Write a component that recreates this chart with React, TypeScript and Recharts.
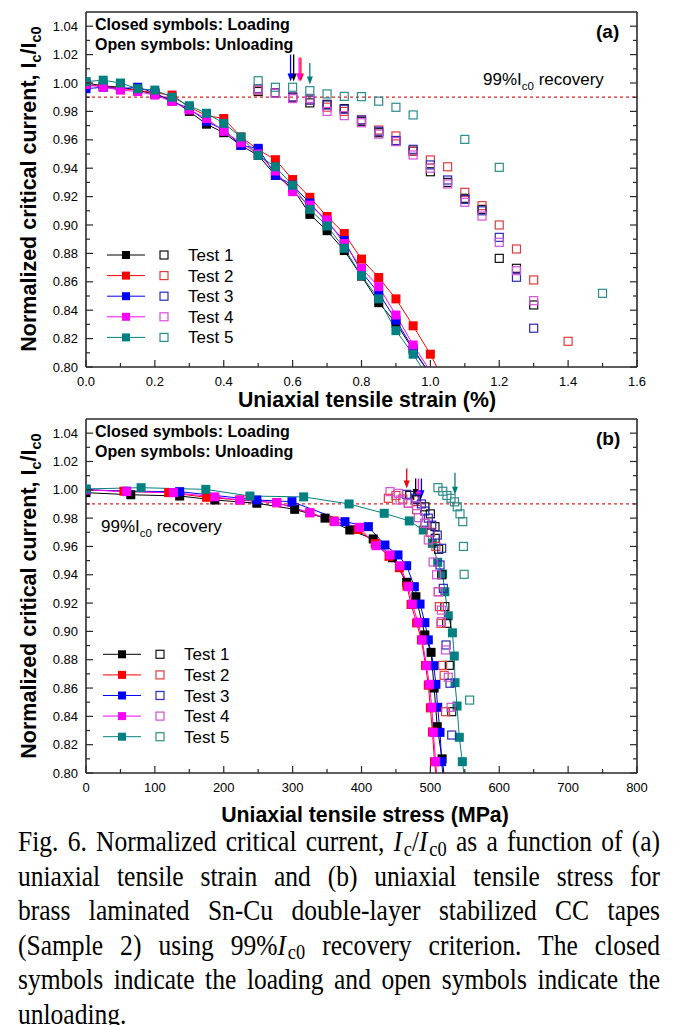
import React from "react";
import { ComposedChart, Line, Scatter, XAxis, YAxis, ReferenceLine } from "recharts";

const FONT = "'Liberation Sans', Arial, Helvetica, sans-serif";
const SERIF = "'Liberation Serif', 'Times New Roman', serif";

const testNames = ["Test 1", "Test 2", "Test 3", "Test 4", "Test 5"];
const fillColors = ["#000000", "#ff0000", "#0000ff", "#ff00ff", "#008080"];
const openColors = ["#111111", "#e33b3b", "#2a2ab8", "#d64fd6", "#2b8c8c"];

const icTicks = [
  0.8, 0.81, 0.82, 0.83, 0.84, 0.85, 0.86, 0.87, 0.88, 0.89, 0.9, 0.91, 0.92,
  0.93, 0.94, 0.95, 0.96, 0.97, 0.98, 0.99, 1.0, 1.01, 1.02, 1.03, 1.04,
];
const strainTicks = [0, 0.1, 0.2, 0.3, 0.4, 0.5, 0.6, 0.7, 0.8, 0.9, 1.0, 1.1, 1.2, 1.3, 1.4, 1.5, 1.6];
const stressTicks = [0, 50, 100, 150, 200, 250, 300, 350, 400, 450, 500, 550, 600, 650, 700, 750, 800];

// ---- (a) strain, loading ----
const loadStrain = [0, 0.05, 0.1, 0.15, 0.2, 0.25, 0.3, 0.35, 0.4, 0.45, 0.5, 0.55, 0.6, 0.65, 0.7, 0.75, 0.8, 0.85, 0.9, 0.95, 1.0, 1.05];
const loadA1 = [1.0, 0.998, 0.997, 0.995, 0.992, 0.988, 0.98, 0.971, 0.965, 0.956, 0.949, 0.935, 0.926, 0.9075, 0.896, 0.882, 0.864, 0.8453, 0.831, 0.812, 0.795, 0.775];
const loadA2 = [0.998, 0.998, 0.996, 0.995, 0.993, 0.9915, 0.983, 0.977, 0.975, 0.962, 0.953, 0.946, 0.932, 0.9195, 0.906, 0.894, 0.876, 0.863, 0.848, 0.829, 0.809, 0.785];
const loadA3 = [0.996, 0.997, 0.996, 0.997, 0.993, 0.987, 0.982, 0.973, 0.967, 0.956, 0.954, 0.935, 0.928, 0.9155, 0.902, 0.889, 0.867, 0.852, 0.833, 0.813, 0.794, 0.775];
const loadA4 = [0.999, 0.997, 0.995, 0.994, 0.9915, 0.987, 0.981, 0.975, 0.966, 0.958, 0.95, 0.938, 0.9235, 0.914, 0.9035, 0.887, 0.8695, 0.8566, 0.8366, 0.8155, 0.797, 0.775];
const loadA5 = [1.001, 1.002, 1.0, 0.996, 0.995, 0.99, 0.984, 0.9787, 0.9716, 0.962, 0.949, 0.941, 0.928, 0.911, 0.8993, 0.8836, 0.8643, 0.848, 0.8256, 0.809, 0.79, 0.77];

// ---- (a) strain, unloading ----
const unloadStrain = [0.5, 0.55, 0.6, 0.65, 0.7, 0.75, 0.8, 0.85, 0.9, 0.95, 1.0, 1.05, 1.1, 1.15, 1.2, 1.25, 1.3, 1.4, 1.5];
const unloadA1 = [0.994, 0.993, 0.99, 0.986, 0.985, 0.982, 0.973, 0.965, 0.959, 0.952, 0.9375, 0.93, 0.9188, 0.911, 0.8765, 0.8695, 0.8437, null, null];
const unloadA2 = [0.995, 0.993, 0.99, 0.988, 0.983, 0.98, 0.974, 0.9669, 0.9627, 0.952, 0.9458, 0.941, 0.923, 0.9136, 0.9, 0.8831, 0.8613, 0.8181, null];
const unloadA3 = [0.996, 0.993, 0.99, 0.988, 0.9845, 0.9815, 0.974, 0.966, 0.9595, 0.9533, 0.9423, 0.9317, 0.918, 0.91, 0.8913, 0.8632, 0.8273, null, null];
const unloadA4 = [0.9956, 0.9928, 0.989, 0.9892, 0.98, 0.977, 0.972, 0.964, 0.9587, 0.9493, 0.94, 0.9289, 0.916, 0.9063, 0.8878, 0.8678, 0.8467, null, null];
const unloadA5 = [1.0016, 0.997, 0.997, 0.9946, 0.9923, 0.9906, 0.9904, 0.9872, 0.9829, 0.9775, null, null, 0.9603, null, 0.9406, null, null, null, 0.8519];

// arrows (x, top, tip) for each test, panel (a)
const arrowStrainA = [0.603, 0.624, 0.594, 0.619, 0.65];
const arrowTopA = [1.02, 1.018, 1.02, 1.018, 1.014];
const arrowTipA = [1.001, 1.001, 1.001, 1.001, 0.999];

// ---- (b) stress, loading ----
const loadStressB1 = [0, 65, 136, 187, 248, 303, 347, 383, 417, 445, 465.6, 479, 492, 501, 505.5, 510, 517, 521];
const loadB1 = [0.998, 0.9965, 0.9956, 0.9928, 0.9905, 0.9862, 0.98, 0.9716, 0.9653, 0.952, 0.9347, 0.9245, 0.8975, 0.8852, 0.86, 0.8327, 0.81, 0.795];
const loadStressB2 = [0, 55, 120, 175, 223.5, 277, 325, 360, 395, 420, 440, 455, 466, 472, 480, 487, 493, 497, 500, 503, 506, 509];
const loadB2 = [1.0, 0.999, 0.998, 0.9947, 0.9928, 0.9909, 0.9838, 0.978, 0.972, 0.962, 0.953, 0.945, 0.932, 0.919, 0.906, 0.894, 0.876, 0.862, 0.846, 0.829, 0.808, 0.795];
const loadStressB3 = [0, 59, 136, 248, 299, 376, 410, 434, 453, 465.6, 476.7, 485, 492, 497, 505, 508, 510.6, 514, 516.4, 519];
const loadB3 = [1.0, 0.999, 0.9987, 0.9928, 0.9916, 0.9775, 0.974, 0.961, 0.954, 0.9464, 0.9316, 0.9193, 0.9062, 0.894, 0.8758, 0.8626, 0.8464, 0.8287, 0.808, 0.795];
const loadStressB4 = [0, 59, 127, 187, 223, 277, 325, 361, 397, 421, 441.4, 456, 468, 473.8, 482, 488, 494.5, 498.5, 502, 504.3, 507.7, 510];
const loadB4 = [1.0, 0.9987, 0.998, 0.995, 0.9928, 0.9909, 0.9838, 0.9775, 0.9735, 0.9605, 0.954, 0.9464, 0.9316, 0.9193, 0.9065, 0.894, 0.8758, 0.8626, 0.8464, 0.8287, 0.808, 0.795];
const loadStressB5 = [0, 80, 174, 238, 316, 382, 433, 469.4, 489.7, 502.8, 510.6, 517.8, 521, 526, 532, 534.7, 535.8, 538.7, 542, 546.4, 550];
const loadB5 = [1.0006, 1.0015, 1.0003, 0.9956, 0.995, 0.99, 0.9834, 0.978, 0.9716, 0.9622, 0.9488, 0.9405, 0.928, 0.911, 0.899, 0.8826, 0.8638, 0.8473, 0.8252, 0.808, 0.795];

// ---- (b) stress, unloading ----
const unloadStressB1 = [470, 480, 492, 500, 506.7, 507, 512, 516.4, 521, 523.7, 527.5, 531];
const unloadB1 = [0.996, 0.993, 0.988, 0.983, 0.974, 0.9657, 0.958, 0.94, 0.9175, 0.9057, 0.876, 0.8433];
const unloadStressB2 = [439, 450, 460, 468, 480, 492, 500, 508, 511.5, 513, 515.4, 517.8, 520, 522];
const unloadB2 = [0.994, 0.996, 0.9935, 0.9905, 0.986, 0.9763, 0.97, 0.96, 0.928, 0.9175, 0.9057, 0.876, 0.869, 0.8433];
const unloadStressB3 = [465.6, 478, 487, 492, 497, 502, 510, 516.4, 514, 518.8, 522.7, 528.5, 531];
const unloadB3 = [0.9968, 0.994, 0.99, 0.985, 0.98, 0.975, 0.968, 0.9587, 0.9469, 0.9304, 0.8904, 0.8634, 0.8268];
const unloadStressB4 = [441.4, 453.4, 456, 468, 480, 482.5, 492, 497, 504, 509, 511.5, 516, 516, 522, 526, 530];
const unloadB4 = [0.9987, 0.9975, 0.9928, 0.9905, 0.9888, 0.9803, 0.9763, 0.9646, 0.949, 0.94, 0.928, 0.915, 0.9069, 0.8869, 0.8676, 0.8464];
const unloadStressB5 = [511, 518, 524, 530, 535, 539, 543, 547, 548, 549, 557];
const unloadB5 = [1.0015, 0.999, 0.996, 0.994, 0.9915, 0.988, 0.983, 0.9775, 0.96, 0.9403, 0.8515];

const arrowStressB = [478.6, 465.6, 487, 482.5, 535.7];
const arrowTopB = [1.008, 1.015, 1.008, 1.008, 1.012];
const arrowTipB = [0.995, 1.001, 0.994, 0.993, 0.9965];

type Pt = { x: number; y: number };
const pts = (xs: number[], ys: (number | null)[]): Pt[] =>
  xs.map((x, i) => ({ x, y: ys[i] as number })).filter((p) => p.y != null);

const panelA = {
  load: [loadA1, loadA2, loadA3, loadA4, loadA5].map((ys) => pts(loadStrain, ys)),
  unload: [unloadA1, unloadA2, unloadA3, unloadA4, unloadA5].map((ys) => pts(unloadStrain, ys)),
  arrows: arrowStrainA.map((x, i) => ({ x, top: arrowTopA[i], tip: arrowTipA[i] })),
};
const panelB = {
  load: [
    pts(loadStressB1, loadB1),
    pts(loadStressB2, loadB2),
    pts(loadStressB3, loadB3),
    pts(loadStressB4, loadB4),
    pts(loadStressB5, loadB5),
  ],
  unload: [
    pts(unloadStressB1, unloadB1),
    pts(unloadStressB2, unloadB2),
    pts(unloadStressB3, unloadB3),
    pts(unloadStressB4, unloadB4),
    pts(unloadStressB5, unloadB5),
  ],
  arrows: arrowStressB.map((x, i) => ({ x, top: arrowTopB[i], tip: arrowTipB[i] })),
};

const AXIS = "#2a2a2a";

function AxisTick(props: any) {
  const { x, y, payload, side, major, fmt } = props;
  const v = payload.value;
  const big = major(v);
  const len = big ? 7 : 4;
  let line = null;
  let label = null;
  if (side === "bottom") {
    line = <line x1={x} y1={y} x2={x} y2={y - len} stroke={AXIS} strokeWidth={1.2} />;
    if (big)
      label = (
        <text x={x} y={y + 19} textAnchor="middle" fontSize={13} fontFamily={FONT} fill="#000">
          {fmt(v)}
        </text>
      );
  } else if (side === "top") {
    line = <line x1={x} y1={y} x2={x} y2={y + len} stroke={AXIS} strokeWidth={1.2} />;
  } else if (side === "left") {
    line = <line x1={x} y1={y} x2={x + len} y2={y} stroke={AXIS} strokeWidth={1.2} />;
    if (big)
      label = (
        <text x={x - 8} y={y} dy="0.35em" textAnchor="end" fontSize={13} fontFamily={FONT} fill="#000">
          {fmt(v)}
        </text>
      );
  } else {
    line = <line x1={x} y1={y} x2={x - len} y2={y} stroke={AXIS} strokeWidth={1.2} />;
  }
  return (
    <g>
      {line}
      {label}
    </g>
  );
}

const arrowShape = (color: string) => (p: any) => {
  const { x1, y1, x2, y2 } = p;
  return (
    <g>
      <line x1={x1} y1={y1} x2={x2} y2={y2 - 6} stroke={color} strokeWidth={1.3} />
      <polygon points={`${x2 - 3},${y2 - 8} ${x2 + 3},${y2 - 8} ${x2},${y2}`} fill={color} />
    </g>
  );
};

function Panel({ data, xDomain, xTicks, majorX, fmtX, bottom }: any) {
  const majorY = (v: number) => Math.round(v * 100) % 2 === 0;
  const fmtY = (v: number) => v.toFixed(2);
  return (
    <ComposedChart width={676} height={420} margin={{ top: 11, right: 38, bottom, left: 26 }}>
      <XAxis
        xAxisId="b"
        dataKey="x"
        type="number"
        domain={xDomain}
        ticks={xTicks}
        interval={0}
        allowDataOverflow
        height={30}
        tickSize={0}
        tickMargin={0}
        tickLine={false}
        axisLine={{ stroke: AXIS, strokeWidth: 1.6 }}
        tick={(p: any) => <AxisTick {...p} side="bottom" major={majorX} fmt={fmtX} />}
      />
      <XAxis
        xAxisId="t"
        orientation="top"
        type="number"
        domain={xDomain}
        ticks={xTicks}
        interval={0}
        allowDataOverflow
        height={1}
        tickSize={0}
        tickMargin={0}
        tickLine={false}
        axisLine={{ stroke: AXIS, strokeWidth: 1.6 }}
        tick={(p: any) => <AxisTick {...p} side="top" major={majorX} fmt={fmtX} />}
      />
      <YAxis
        yAxisId="l"
        dataKey="y"
        type="number"
        domain={[0.8, 1.05]}
        ticks={icTicks}
        interval={0}
        allowDataOverflow
        width={60}
        tickSize={0}
        tickMargin={0}
        tickLine={false}
        axisLine={{ stroke: AXIS, strokeWidth: 1.6 }}
        tick={(p: any) => <AxisTick {...p} side="left" major={majorY} fmt={fmtY} />}
      />
      <YAxis
        yAxisId="r"
        orientation="right"
        type="number"
        domain={[0.8, 1.05]}
        ticks={icTicks}
        interval={0}
        allowDataOverflow
        width={1}
        tickSize={0}
        tickMargin={0}
        tickLine={false}
        axisLine={{ stroke: AXIS, strokeWidth: 1.6 }}
        tick={(p: any) => <AxisTick {...p} side="right" major={majorY} fmt={fmtY} />}
      />
      <ReferenceLine
        xAxisId="b"
        yAxisId="l"
        y={0.99}
        stroke="#e02020"
        strokeWidth={1.2}
        strokeDasharray="3 3"
      />
      {data.load.map((d: Pt[], i: number) => (
        <Line
          key={"l" + i}
          xAxisId="b"
          yAxisId="l"
          data={d}
          dataKey="y"
          name={testNames[i]}
          stroke={fillColors[i]}
          strokeWidth={1}
          isAnimationActive={false}
          dot={(p: any) => (
            <rect
              key={"d" + i + "-" + p.index}
              x={p.cx - 4.5}
              y={p.cy - 4.5}
              width={9}
              height={9}
              fill={fillColors[i]}
            />
          )}
          activeDot={false}
        />
      ))}
      {data.unload.map((d: Pt[], i: number) => (
        <Scatter
          key={"u" + i}
          xAxisId="b"
          yAxisId="l"
          data={d}
          dataKey="y"
          isAnimationActive={false}
          shape={(p: any) => (
            <rect
              x={p.cx - 4}
              y={p.cy - 4}
              width={8}
              height={8}
              fill="none"
              stroke={openColors[i]}
              strokeWidth={1.2}
            />
          )}
        />
      ))}
      {data.arrows.map((a: any, i: number) => (
        <ReferenceLine
          key={"a" + i}
          xAxisId="b"
          yAxisId="l"
          segment={[
            { x: a.x, y: a.top },
            { x: a.x, y: a.tip },
          ]}
          stroke={fillColors[i]}
          shape={arrowShape(fillColors[i])}
        />
      ))}
    </ComposedChart>
  );
}

function PanelText({ top, legendX, legendY, tag, recX, recY }: any) {
  return (
    <g fontFamily={FONT} fill="#000">
      <text x={95} y={top + 18} fontSize={16} fontWeight="bold">
        Closed symbols: Loading
      </text>
      <text x={95} y={top + 38} fontSize={16} fontWeight="bold">
        Open symbols: Unloading
      </text>
      <text x={596} y={top + 26} fontSize={19} fontWeight="bold">
        {tag}
      </text>
      <text x={recX} y={recY} fontSize={17}>
        99%I
        <tspan fontSize={11.5} dy={5}>
          c0
        </tspan>
        <tspan dy={-5}> recovery</tspan>
      </text>
      <text
        transform="rotate(-90)"
        x={-(top + 177)}
        y={36}
        textAnchor="middle"
        fontSize={21.5}
        fontWeight="bold"
      >
        Normalized critical current, I
        <tspan fontSize={14.5} dy={5}>
          c
        </tspan>
        <tspan dy={-5}>/I</tspan>
        <tspan fontSize={14.5} dy={5}>
          c0
        </tspan>
      </text>
      {testNames.map((n, i) => {
        const y = legendY + i * 20.6;
        return (
          <g key={n}>
            <line x1={legendX} y1={y} x2={legendX + 38} y2={y} stroke={fillColors[i]} strokeWidth={1} />
            <rect x={legendX + 15} y={y - 4} width={8} height={8} fill={fillColors[i]} />
            <rect x={legendX + 53} y={y - 4} width={8} height={8} fill="none" stroke={openColors[i]} strokeWidth={1.2} />
            <text x={legendX + 81} y={y + 6} fontSize={17}>
              {n}
            </text>
          </g>
        );
      })}
    </g>
  );
}

const subStyle: React.CSSProperties = {
  fontSize: "0.72em",
  verticalAlign: "-0.22em",
  lineHeight: 0,
  marginLeft: 2,
};

const captionLines = [
  <>
    Fig. 6. Normalized critical current, <i>I</i>
    <span style={subStyle}>c</span>/<i>I</i>
    <span style={subStyle}>c0</span> as a function of (a)
  </>,
  <>uniaxial tensile strain and (b) uniaxial tensile stress for</>,
  <>brass laminated Sn-Cu double-layer stabilized CC tapes</>,
  <>
    (Sample 2) using 99%<i>I</i>
    <span style={subStyle}>c0</span> recovery criterion. The closed
  </>,
  <>symbols indicate the loading and open symbols indicate the</>,
  <>unloading.</>,
];

const CAP_SCALE = 0.88;

export default function App() {
  return (
    <div
      style={{
        position: "absolute",
        left: 0,
        top: 0,
        width: 676,
        height: 1025,
        overflow: "hidden",
        background: "#fff",
      }}
    >
      <div style={{ position: "absolute", left: 0, top: 0 }}>
        <Panel
          data={panelA}
          xDomain={[0, 1.6]}
          xTicks={strainTicks}
          majorX={(v: number) => Math.round(v * 10) % 2 === 0}
          fmtX={(v: number) => v.toFixed(1)}
          bottom={23}
        />
      </div>
      <div style={{ position: "absolute", left: 0, top: 407 }}>
        <Panel
          data={panelB}
          xDomain={[0, 800]}
          xTicks={stressTicks}
          majorX={(v: number) => v % 100 === 0}
          fmtX={(v: number) => String(v)}
          bottom={24}
        />
      </div>
      <svg
        width={676}
        height={1025}
        style={{ position: "absolute", left: 0, top: 0, pointerEvents: "none" }}
      >
        <PanelText top={12} legendX={107} legendY={255} tag="(a)" recX={483} recY={85} />
        <PanelText top={419} legendX={103} legendY={654.3} tag="(b)" recX={101} recY={532} />
        <text x={367} y={407} textAnchor="middle" fontSize={21.3} fontWeight="bold" fontFamily={FONT}>
          Uniaxial tensile strain (%)
        </text>
        <text x={365} y={822} textAnchor="middle" fontSize={21.3} fontWeight="bold" fontFamily={FONT}>
          Uniaxial tensile stress (MPa)
        </text>
      </svg>
      <div
        style={{
          position: "absolute",
          left: 18,
          top: 824,
          width: 642 / CAP_SCALE,
          transform: `scaleX(${CAP_SCALE})`,
          transformOrigin: "0 0",
          fontFamily: SERIF,
          fontSize: 29,
          lineHeight: "34.6px",
          color: "#000",
        }}
      >
        {captionLines.map((l, i) => (
          <div
            key={i}
            style={{
              textAlign: "justify",
              textAlignLast: i < captionLines.length - 1 ? "justify" : "left",
              height: 34.6,
              whiteSpace: "normal",
            }}
          >
            {l}
          </div>
        ))}
      </div>
    </div>
  );
}
